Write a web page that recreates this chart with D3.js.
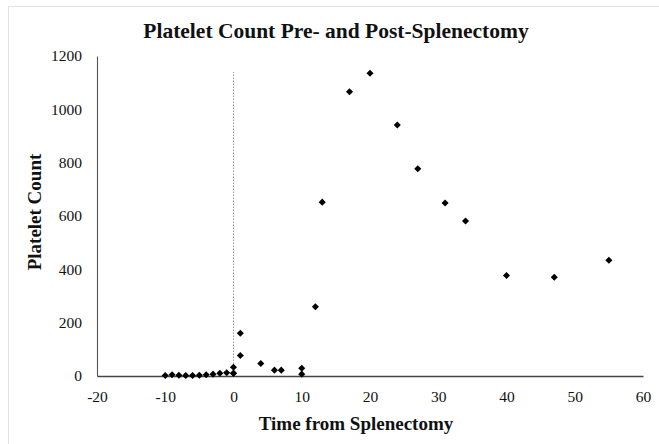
<!DOCTYPE html>
<html lang="en">
<head>
<meta charset="UTF-8" />
<title>Platelet Count Pre- and Post-Splenectomy</title>
<script src="https://d3js.org/d3.v7.min.js"></script>
<style>
  body { margin: 0; background: #fff; }
  text { font-family: "Liberation Serif", "Times New Roman", serif; fill: #111; }
  .tick text { font-size: 15.5px; }
</style>
</head>
<body>
<div id="chart"></div>
<script>
// Days relative to splenectomy and platelet counts
const days = [-10, -9, -8, -7, -6, -5, -4, -3, -2, -1, 0, 0, 0, 1, 1, 4, 6, 7, 10, 10,
              12, 13, 17, 20, 24, 27, 31, 34, 40, 47, 55];
const counts = [2, 5, 3, 2, 2, 3, 5, 7, 10, 12, 10, 33, 10, 77, 160, 47, 22, 22, 29, 7,
                260, 652, 1066, 1135, 941, 777, 649, 581, 377, 370, 434];
const xTicks = [-20, -10, 0, 10, 20, 30, 40, 50, 60];
const yTicks = [0, 200, 400, 600, 800, 1000, 1200];
const surgeryLineTop = 1140;

const width = 659, height = 444;
const margin = { top: 56, right: 16, bottom: 68, left: 97 };

const svg = d3.select("#chart").append("svg")
  .attr("width", width)
  .attr("height", height);

// faint frame around the chart area
svg.append("rect")
  .attr("x", 8.5).attr("y", 6.5)
  .attr("width", width).attr("height", height)
  .attr("fill", "none")
  .attr("stroke", "#e2e2e2");

const x = d3.scaleLinear().domain([-20, 60]).range([margin.left, width - margin.right]);
const y = d3.scaleLinear().domain([0, 1200]).range([height - margin.bottom, margin.top]);

// plain integers with an ordinary hyphen for negatives
const fmt = d => String(d);

// x axis
const xAxis = svg.append("g")
  .attr("transform", `translate(0,${y(0)})`)
  .call(d3.axisBottom(x).tickValues(xTicks).tickFormat(fmt).tickSize(0).tickPadding(15));
xAxis.select(".domain").attr("stroke", "#444").attr("stroke-width", 1.3);

// y axis
const yAxis = svg.append("g")
  .attr("transform", `translate(${x(-20)},0)`)
  .call(d3.axisLeft(y).tickValues(yTicks).tickFormat(fmt).tickSize(0).tickPadding(15));
yAxis.select(".domain").attr("stroke", "#555").attr("stroke-width", 1.1);

// dotted vertical line at the day of surgery
svg.append("line")
  .attr("x1", x(0)).attr("x2", x(0))
  .attr("y1", y(0)).attr("y2", y(surgeryLineTop))
  .attr("stroke", "#999")
  .attr("stroke-width", 1)
  .attr("stroke-dasharray", "1.5,1.5");

// diamond markers (a square turned 45 degrees, like Excel's)
const diamond = d3.symbol().type(d3.symbolSquare).size(25);
svg.append("g").selectAll("path")
  .data(days.map((d, i) => ({ day: d, count: counts[i] })))
  .join("path")
  .attr("d", diamond)
  .attr("transform", d => `translate(${x(d.day)},${y(d.count)}) rotate(45)`)
  .attr("fill", "#000");

// title and axis labels
svg.append("text")
  .attr("x", 336).attr("y", 38)
  .attr("text-anchor", "middle")
  .attr("font-size", 21.5).attr("font-weight", "bold")
  .text("Platelet Count Pre- and Post-Splenectomy");

svg.append("text")
  .attr("x", 356).attr("y", 430)
  .attr("text-anchor", "middle")
  .attr("font-size", 19).attr("font-weight", "bold")
  .text("Time from Splenectomy");

svg.append("text")
  .attr("transform", "translate(41,212) rotate(-90)")
  .attr("text-anchor", "middle")
  .attr("font-size", 19).attr("font-weight", "bold")
  .text("Platelet Count");
</script>
</body>
</html>
